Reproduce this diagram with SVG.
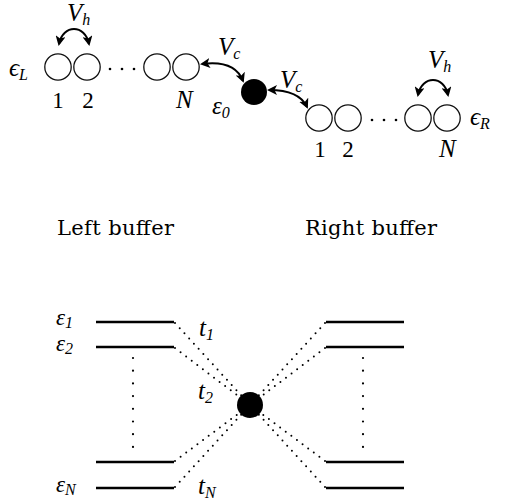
<svg xmlns="http://www.w3.org/2000/svg" width="514" height="503" viewBox="0 0 514 503">
  <style>
    .site { fill: none; stroke: #111; stroke-width: 1.3; }
    .dot { fill: #000; }
    .lvl { stroke: #000; stroke-width: 2.4; }
    .hop { fill: none; stroke: #000; stroke-width: 2; marker-start: url(#tip); marker-end: url(#tip); }
    .cpl { fill: none; stroke: #000; stroke-width: 2; stroke-dasharray: 0 7; stroke-linecap: round; }
    .vdots { fill: none; stroke: #000; stroke-width: 2.2; stroke-dasharray: 0 12.7; stroke-linecap: round; }
    .math { font-family: 'Liberation Serif', 'DejaVu Serif', serif; font-style: italic; font-size: 25px; fill: #000; }
    .num { font-family: 'Liberation Serif', 'DejaVu Serif', serif; font-size: 23px; text-anchor: middle; fill: #000; }
    .txt { font-family: 'DejaVu Serif', 'Liberation Serif', serif; font-size: 21px; fill: #000; }
    .sub { font-size: 16px; }
    .lv { font-size: 23px; }
  </style>
  <defs>
    <marker id="tip" viewBox="0 0 10 10" refX="8" refY="5" markerWidth="5" markerHeight="5" orient="auto-start-reverse" markerUnits="strokeWidth">
      <path d="M0 0 L10 5 L0 10 L2.5 5 Z" fill="#000"/>
    </marker>
  </defs>

  <!-- left buffer chain -->
  <g id="left-chain">
    <text class="math" x="9" y="76">ϵ<tspan class="sub" dy="4">L</tspan></text>
    <circle class="site" cx="58" cy="67" r="13.2"/>
    <circle class="site" cx="87" cy="67" r="13.2"/>
    <circle class="dot" cx="110" cy="69" r="1.3"/>
    <circle class="dot" cx="122" cy="69" r="1.3"/>
    <circle class="dot" cx="134" cy="69" r="1.3"/>
    <circle class="site" cx="157" cy="67" r="13.2"/>
    <circle class="site" cx="186" cy="67" r="13.2"/>
    <text class="num" x="58" y="108">1</text>
    <text class="num" x="88" y="108">2</text>
    <text class="math" x="176" y="108">N</text>
    <text class="math" x="67" y="21">V<tspan class="sub" dy="4">h</tspan></text>
  </g>

  <!-- central dot -->
  <g id="impurity">
    <circle class="dot" cx="254" cy="92" r="13"/>
    <text class="math" x="212" y="114">ε<tspan class="sub" dy="4">0</tspan></text>
    <text class="math" x="218" y="55">V<tspan class="sub" dy="4">c</tspan></text>
    <text class="math" x="280" y="88">V<tspan class="sub" dy="4">c</tspan></text>
  </g>

  <!-- right buffer chain -->
  <g id="right-chain">
    <circle class="site" cx="319" cy="118" r="13.2"/>
    <circle class="site" cx="348" cy="118" r="13.2"/>
    <circle class="dot" cx="372" cy="120" r="1.3"/>
    <circle class="dot" cx="384" cy="120" r="1.3"/>
    <circle class="dot" cx="396" cy="120" r="1.3"/>
    <circle class="site" cx="418" cy="118" r="13.2"/>
    <circle class="site" cx="447" cy="118" r="13.2"/>
    <text class="math" x="470" y="125">ϵ<tspan class="sub" dy="4">R</tspan></text>
    <text class="num" x="320" y="157">1</text>
    <text class="num" x="348" y="157">2</text>
    <text class="math" x="439" y="157">N</text>
    <text class="math" x="428" y="68">V<tspan class="sub" dy="4">h</tspan></text>
  </g>

  <g id="captions">
    <text class="txt" x="57" y="235" textLength="117">Left buffer</text>
    <text class="txt" x="305" y="235" textLength="132">Right buffer</text>
  </g>

  <!-- hopping arrows -->
  <g id="hops">
    <path class="hop" d="M89 44 C85 24, 63 24, 59 44"/>
    <path class="hop" d="M202 64 C225 61, 238 68, 243 81"/>
    <path class="hop" d="M269 90 C290 90, 302 96, 307 107"/>
    <path class="hop" d="M448 95 C444 75, 422 75, 418 95"/>
  </g>

  <!-- level scheme -->
  <g id="left-levels">
    <line class="lvl" x1="96" y1="322" x2="174" y2="322"/>
    <line class="lvl" x1="96" y1="347" x2="174" y2="347"/>
    <line class="lvl" x1="96" y1="462" x2="174" y2="462"/>
    <line class="lvl" x1="96" y1="488" x2="174" y2="488"/>
    <line class="vdots" x1="133" y1="358" x2="133" y2="448"/>
    <text class="math lv" x="56" y="325">ε<tspan class="sub" dy="3">1</tspan></text>
    <text class="math lv" x="56" y="351">ε<tspan class="sub" dy="3">2</tspan></text>
    <text class="math lv" x="56" y="492">ε<tspan class="sub" dy="3">N</tspan></text>
  </g>

  <g id="right-levels">
    <line class="lvl" x1="326" y1="322" x2="404" y2="322"/>
    <line class="lvl" x1="326" y1="347" x2="404" y2="347"/>
    <line class="lvl" x1="326" y1="462" x2="404" y2="462"/>
    <line class="lvl" x1="326" y1="488" x2="404" y2="488"/>
    <line class="vdots" x1="363" y1="358" x2="363" y2="448"/>
  </g>

  <g id="couplings">
    <line class="cpl" x1="175" y1="323" x2="250" y2="405"/>
    <line class="cpl" x1="175" y1="348" x2="250" y2="405"/>
    <line class="cpl" x1="175" y1="461" x2="250" y2="405"/>
    <line class="cpl" x1="175" y1="487" x2="250" y2="405"/>
    <line class="cpl" x1="325" y1="323" x2="250" y2="405"/>
    <line class="cpl" x1="325" y1="348" x2="250" y2="405"/>
    <line class="cpl" x1="325" y1="461" x2="250" y2="405"/>
    <line class="cpl" x1="325" y1="487" x2="250" y2="405"/>
  </g>

  <g id="junction">
    <circle class="dot" cx="250" cy="405" r="13"/>
    <text class="math" x="199" y="336">t<tspan class="sub" dy="4">1</tspan></text>
    <text class="math" x="198" y="399">t<tspan class="sub" dy="4">2</tspan></text>
    <text class="math" x="198" y="494">t<tspan class="sub" dy="4">N</tspan></text>
  </g>
</svg>
